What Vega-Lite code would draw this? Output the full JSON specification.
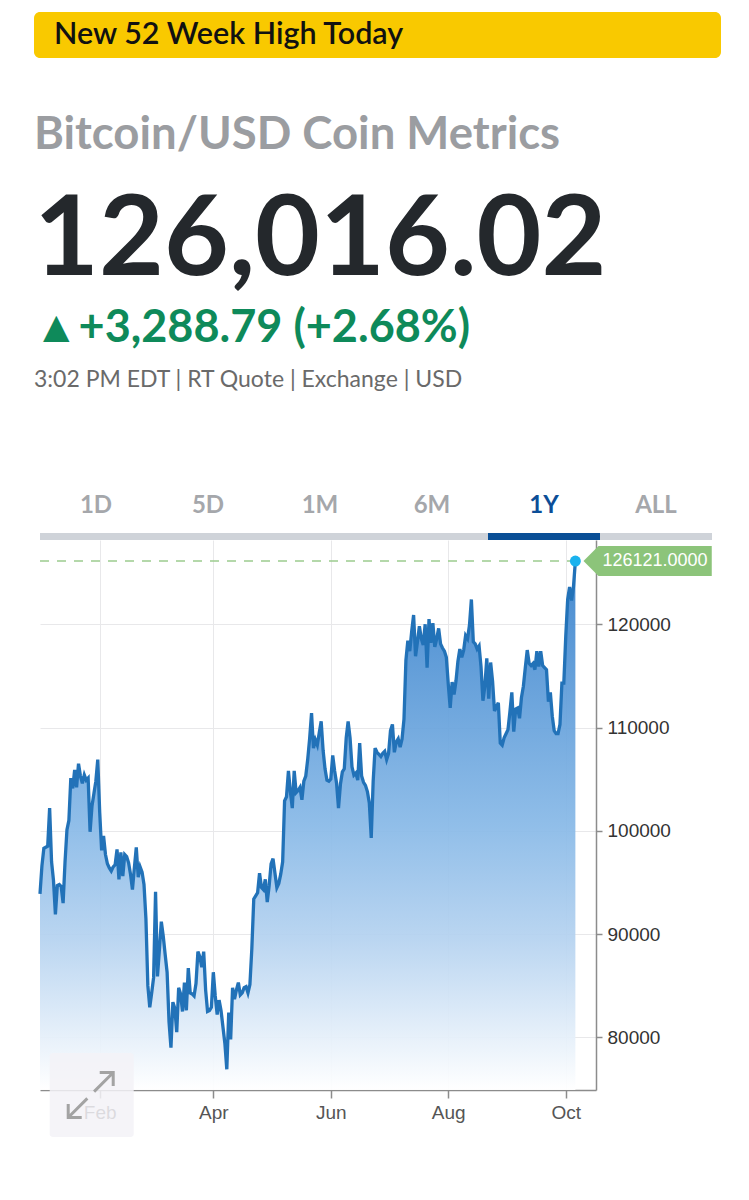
{
  "$schema": "https://vega.github.io/schema/vega-lite/v6.json",
  "padding": {"left": 33, "top": 12, "right": 0, "bottom": 0},
  "background": "#ffffff",
  "bounds": "flush",
  "spacing": 0,
  "config": {"view": {"stroke": null}, "font": "Lato", "concat": {"spacing": 0}},
  "datasets": {
    "tabs": [{"tab": "1D"}, {"tab": "5D"}, {"tab": "1M"}, {"tab": "6M"}, {"tab": "1Y"}, {"tab": "ALL"}],
    "high": [{"date": "2025-10-06", "price": 126121}],
    "btc": [
      {"date":"2025-01-01","price":93900},{"date":"2025-01-02","price":96600},{"date":"2025-01-03","price":98300},{"date":"2025-01-04","price":98400},{"date":"2025-01-05","price":98500},{"date":"2025-01-06","price":102200},{"date":"2025-01-07","price":97000},{"date":"2025-01-08","price":95200},{"date":"2025-01-09","price":91900},{"date":"2025-01-10","price":94700},{"date":"2025-01-11","price":94800},{"date":"2025-01-12","price":94600},{"date":"2025-01-13","price":93000},{"date":"2025-01-14","price":97000},{"date":"2025-01-15","price":100100},{"date":"2025-01-16","price":101000},{"date":"2025-01-17","price":105100},{"date":"2025-01-18","price":104100},{"date":"2025-01-19","price":105900},{"date":"2025-01-20","price":104200},{"date":"2025-01-21","price":106500},{"date":"2025-01-22","price":105300},{"date":"2025-01-23","price":104600},{"date":"2025-01-24","price":105400},{"date":"2025-01-25","price":104900},{"date":"2025-01-26","price":105100},{"date":"2025-01-27","price":99900},{"date":"2025-01-28","price":102400},{"date":"2025-01-29","price":103600},{"date":"2025-01-30","price":104800},{"date":"2025-01-31","price":106900},
      {"date":"2025-02-01","price":101800},{"date":"2025-02-02","price":98100},{"date":"2025-02-03","price":99500},{"date":"2025-02-04","price":97700},{"date":"2025-02-05","price":96800},{"date":"2025-02-06","price":96400},{"date":"2025-02-07","price":96100},{"date":"2025-02-08","price":96500},{"date":"2025-02-09","price":96700},{"date":"2025-02-10","price":98200},{"date":"2025-02-11","price":95300},{"date":"2025-02-12","price":97900},{"date":"2025-02-13","price":95600},{"date":"2025-02-14","price":97700},{"date":"2025-02-15","price":97500},{"date":"2025-02-16","price":96900},{"date":"2025-02-17","price":95800},{"date":"2025-02-18","price":94300},{"date":"2025-02-19","price":96400},{"date":"2025-02-20","price":98400},{"date":"2025-02-21","price":95500},{"date":"2025-02-22","price":96500},{"date":"2025-02-23","price":96000},{"date":"2025-02-24","price":94800},{"date":"2025-02-25","price":91500},{"date":"2025-02-26","price":85000},{"date":"2025-02-27","price":82900},{"date":"2025-02-28","price":84300},
      {"date":"2025-03-01","price":85800},{"date":"2025-03-02","price":94100},{"date":"2025-03-03","price":85900},{"date":"2025-03-04","price":88500},{"date":"2025-03-05","price":91200},{"date":"2025-03-06","price":89800},{"date":"2025-03-07","price":88000},{"date":"2025-03-08","price":86300},{"date":"2025-03-09","price":81500},{"date":"2025-03-10","price":79000},{"date":"2025-03-11","price":83400},{"date":"2025-03-12","price":82800},{"date":"2025-03-13","price":80500},{"date":"2025-03-14","price":84800},{"date":"2025-03-15","price":84200},{"date":"2025-03-16","price":82500},{"date":"2025-03-17","price":85300},{"date":"2025-03-18","price":82600},{"date":"2025-03-19","price":86700},{"date":"2025-03-20","price":84300},{"date":"2025-03-21","price":84200},{"date":"2025-03-22","price":84000},{"date":"2025-03-23","price":85200},{"date":"2025-03-24","price":88300},{"date":"2025-03-25","price":87800},{"date":"2025-03-26","price":86800},{"date":"2025-03-27","price":88300},{"date":"2025-03-28","price":84600},{"date":"2025-03-29","price":82500},{"date":"2025-03-30","price":82600},{"date":"2025-03-31","price":82900},
      {"date":"2025-04-01","price":86300},{"date":"2025-04-02","price":84000},{"date":"2025-04-03","price":82200},{"date":"2025-04-04","price":83600},{"date":"2025-04-05","price":82600},{"date":"2025-04-06","price":81000},{"date":"2025-04-07","price":79400},{"date":"2025-04-08","price":76900},{"date":"2025-04-09","price":82400},{"date":"2025-04-10","price":79800},{"date":"2025-04-11","price":84800},{"date":"2025-04-12","price":83700},{"date":"2025-04-13","price":84600},{"date":"2025-04-14","price":85300},{"date":"2025-04-15","price":84100},{"date":"2025-04-16","price":84300},{"date":"2025-04-17","price":84800},{"date":"2025-04-18","price":84900},{"date":"2025-04-19","price":84300},{"date":"2025-04-20","price":85100},{"date":"2025-04-21","price":88600},{"date":"2025-04-22","price":93400},{"date":"2025-04-23","price":93700},{"date":"2025-04-24","price":94000},{"date":"2025-04-25","price":95900},{"date":"2025-04-26","price":94500},{"date":"2025-04-27","price":94300},{"date":"2025-04-28","price":95300},{"date":"2025-04-29","price":93100},{"date":"2025-04-30","price":94700},
      {"date":"2025-05-01","price":96800},{"date":"2025-05-02","price":97300},{"date":"2025-05-03","price":95900},{"date":"2025-05-04","price":94500},{"date":"2025-05-05","price":94900},{"date":"2025-05-06","price":95800},{"date":"2025-05-07","price":97000},{"date":"2025-05-08","price":102900},{"date":"2025-05-09","price":103300},{"date":"2025-05-10","price":105800},{"date":"2025-05-11","price":103800},{"date":"2025-05-12","price":102200},{"date":"2025-05-13","price":105800},{"date":"2025-05-14","price":103700},{"date":"2025-05-15","price":103900},{"date":"2025-05-16","price":104200},{"date":"2025-05-17","price":103000},{"date":"2025-05-18","price":104800},{"date":"2025-05-19","price":105300},{"date":"2025-05-20","price":106900},{"date":"2025-05-21","price":108900},{"date":"2025-05-22","price":111400},{"date":"2025-05-23","price":108000},{"date":"2025-05-24","price":108800},{"date":"2025-05-25","price":108300},{"date":"2025-05-26","price":109500},{"date":"2025-05-27","price":110600},{"date":"2025-05-28","price":107800},{"date":"2025-05-29","price":106000},{"date":"2025-05-30","price":104900},{"date":"2025-05-31","price":104800},
      {"date":"2025-06-01","price":105000},{"date":"2025-06-02","price":107300},{"date":"2025-06-03","price":105800},{"date":"2025-06-04","price":104600},{"date":"2025-06-05","price":102200},{"date":"2025-06-06","price":104500},{"date":"2025-06-07","price":105700},{"date":"2025-06-08","price":106000},{"date":"2025-06-09","price":109000},{"date":"2025-06-10","price":110600},{"date":"2025-06-11","price":109000},{"date":"2025-06-12","price":106200},{"date":"2025-06-13","price":105400},{"date":"2025-06-14","price":105600},{"date":"2025-06-15","price":104900},{"date":"2025-06-16","price":108500},{"date":"2025-06-17","price":105300},{"date":"2025-06-18","price":104700},{"date":"2025-06-19","price":104400},{"date":"2025-06-20","price":103800},{"date":"2025-06-21","price":102700},{"date":"2025-06-22","price":99300},{"date":"2025-06-23","price":104800},{"date":"2025-06-24","price":108000},{"date":"2025-06-25","price":107600},{"date":"2025-06-26","price":107400},{"date":"2025-06-27","price":107200},{"date":"2025-06-28","price":107500},{"date":"2025-06-29","price":107700},{"date":"2025-06-30","price":106900},
      {"date":"2025-07-01","price":107500},{"date":"2025-07-02","price":109700},{"date":"2025-07-03","price":110300},{"date":"2025-07-04","price":107600},{"date":"2025-07-05","price":108600},{"date":"2025-07-06","price":108900},{"date":"2025-07-07","price":108100},{"date":"2025-07-08","price":108900},{"date":"2025-07-09","price":110800},{"date":"2025-07-10","price":116500},{"date":"2025-07-11","price":118400},{"date":"2025-07-12","price":117400},{"date":"2025-07-13","price":119300},{"date":"2025-07-14","price":120900},{"date":"2025-07-15","price":116900},{"date":"2025-07-16","price":118300},{"date":"2025-07-17","price":119800},{"date":"2025-07-18","price":118600},{"date":"2025-07-19","price":118000},{"date":"2025-07-20","price":120000},{"date":"2025-07-21","price":115800},{"date":"2025-07-22","price":120500},{"date":"2025-07-23","price":118200},{"date":"2025-07-24","price":120100},{"date":"2025-07-25","price":117800},{"date":"2025-07-26","price":118600},{"date":"2025-07-27","price":119600},{"date":"2025-07-28","price":118100},{"date":"2025-07-29","price":117700},{"date":"2025-07-30","price":117400},{"date":"2025-07-31","price":116800},
      {"date":"2025-08-01","price":114200},{"date":"2025-08-02","price":111900},{"date":"2025-08-03","price":114400},{"date":"2025-08-04","price":113200},{"date":"2025-08-05","price":114500},{"date":"2025-08-06","price":116400},{"date":"2025-08-07","price":117600},{"date":"2025-08-08","price":116800},{"date":"2025-08-09","price":117500},{"date":"2025-08-10","price":118900},{"date":"2025-08-11","price":118600},{"date":"2025-08-12","price":119900},{"date":"2025-08-13","price":122400},{"date":"2025-08-14","price":118300},{"date":"2025-08-15","price":118100},{"date":"2025-08-16","price":117600},{"date":"2025-08-17","price":117900},{"date":"2025-08-18","price":115900},{"date":"2025-08-19","price":112600},{"date":"2025-08-20","price":114000},{"date":"2025-08-21","price":116700},{"date":"2025-08-22","price":112800},{"date":"2025-08-23","price":116300},{"date":"2025-08-24","price":114500},{"date":"2025-08-25","price":111600},{"date":"2025-08-26","price":112000},{"date":"2025-08-27","price":112400},{"date":"2025-08-28","price":108500},{"date":"2025-08-29","price":108300},{"date":"2025-08-30","price":109000},{"date":"2025-08-31","price":109400},
      {"date":"2025-09-01","price":109800},{"date":"2025-09-02","price":111500},{"date":"2025-09-03","price":113400},{"date":"2025-09-04","price":109600},{"date":"2025-09-05","price":111800},{"date":"2025-09-06","price":111900},{"date":"2025-09-07","price":110900},{"date":"2025-09-08","price":112900},{"date":"2025-09-09","price":114000},{"date":"2025-09-10","price":115800},{"date":"2025-09-11","price":117500},{"date":"2025-09-12","price":116200},{"date":"2025-09-13","price":116000},{"date":"2025-09-14","price":116200},{"date":"2025-09-15","price":115600},{"date":"2025-09-16","price":117400},{"date":"2025-09-17","price":115900},{"date":"2025-09-18","price":117400},{"date":"2025-09-19","price":116000},{"date":"2025-09-20","price":115800},{"date":"2025-09-21","price":115600},{"date":"2025-09-22","price":112500},{"date":"2025-09-23","price":113400},{"date":"2025-09-24","price":111100},{"date":"2025-09-25","price":109700},{"date":"2025-09-26","price":109400},{"date":"2025-09-27","price":109400},{"date":"2025-09-28","price":110300},{"date":"2025-09-29","price":114300},{"date":"2025-09-30","price":114300},
      {"date":"2025-10-01","price":118800},{"date":"2025-10-02","price":122400},{"date":"2025-10-03","price":123600},{"date":"2025-10-04","price":122300},{"date":"2025-10-05","price":123600},{"date":"2025-10-06","price":126121}
    ]
  },
  "vconcat": [
    {
      "width": 687, "height": 46,
      "view": {"fill": "#F9C900", "stroke": null, "cornerRadius": 6},
      "data": {"values": [{"label": "New 52 Week High Today"}]},
      "mark": {"type": "text", "align": "left", "baseline": "middle", "dx": 20, "font": "Lato", "fontSize": 30.5, "fontWeight": 600, "color": "#111111"},
      "encoding": {
        "text": {"field": "label"},
        "x": {"datum": 0, "type": "quantitative", "scale": {"domain": [0, 1]}, "axis": null}
      }
    },
    {
      "width": 687, "height": 154,
      "data": {"values": [{"label": "Bitcoin/USD Coin Metrics"}]},
      "mark": {"type": "text", "align": "left", "baseline": "middle", "font": "Lato", "fontSize": 45.5, "fontWeight": "bold", "color": "#9b9da1"},
      "encoding": {
        "text": {"field": "label"},
        "x": {"datum": 0, "type": "quantitative", "scale": {"domain": [0, 1]}, "axis": null}
      }
    },
    {
      "width": 687, "height": 46,
      "data": {"values": [{"label": "126,016.02"}]},
      "mark": {"type": "text", "align": "left", "baseline": "middle", "dy": 6, "font": "Lato", "fontSize": 112, "fontWeight": "bold", "color": "#24282c"},
      "encoding": {
        "text": {"field": "label"},
        "x": {"datum": 0, "type": "quantitative", "scale": {"domain": [0, 1]}, "axis": null}
      }
    },
    {
      "width": 687, "height": 220,
      "layer": [
        {
          "data": {"values": [{"label": "▲+3,288.79 (+2.68%)"}]},
          "mark": {"type": "text", "align": "left", "baseline": "middle", "dy": -40, "font": "Lato", "fontSize": 45, "fontWeight": "bold", "color": "#0e8a5a"},
          "encoding": {
            "text": {"field": "label"},
            "x": {"datum": 0, "type": "quantitative", "scale": {"domain": [0, 1]}, "axis": null}
          }
        },
        {
          "data": {"values": [{"label": "3:02 PM EDT | RT Quote | Exchange | USD"}]},
          "mark": {"type": "text", "align": "left", "baseline": "middle", "dy": 12, "font": "Lato", "fontSize": 23, "fontWeight": "normal", "color": "#6a6a6a"},
          "encoding": {
            "text": {"field": "label"},
            "x": {"datum": 0, "type": "quantitative", "scale": {"domain": [0, 1]}, "axis": null}
          }
        }
      ]
    },
    {
      "bounds": "flush",
      "spacing": 0,
      "hconcat": [
        {
          "width": 6, "height": 10,
          "data": {"values": [{"k": 0}]},
          "mark": {"type": "point", "opacity": 0, "size": 0},
          "encoding": {}
        },
        {
          "bounds": "flush",
          "spacing": 0,
          "vconcat": [
            {
              "width": 672, "height": 55,
              "data": {"name": "tabs"},
              "mark": {"type": "text", "baseline": "middle", "font": "Lato", "fontSize": 24, "fontWeight": "bold"},
              "encoding": {
                "x": {"field": "tab", "type": "nominal", "sort": null, "axis": null},
                "text": {"field": "tab"},
                "color": {"condition": {"test": "datum.tab === '1Y'", "value": "#0c4e97"}, "value": "#a5a7ab"}
              }
            },
            {
              "width": 672, "height": 7,
              "data": {"name": "tabs"},
              "mark": {"type": "rect"},
              "encoding": {
                "x": {"field": "tab", "type": "nominal", "sort": null, "axis": null, "scale": {"paddingInner": 0, "paddingOuter": 0}},
                "color": {"condition": {"test": "datum.tab === '1Y'", "value": "#0a4f96"}, "value": "#cfd3d9"}
              }
            },
            {
              "width": 556, "height": 550,
              "data": {"name": "btc"},
              "encoding": {
                "x": {
                  "field": "date", "type": "temporal",
                  "scale": {"domain": [{"year": 2025, "month": 1, "date": 1}, {"year": 2025, "month": 10, "date": 16, "hours": 17}]},
                  "axis": {
                    "title": null,
                    "values": [{"year": 2025, "month": 2, "date": 1}, {"year": 2025, "month": 4, "date": 1}, {"year": 2025, "month": 6, "date": 1}, {"year": 2025, "month": 8, "date": 1}, {"year": 2025, "month": 10, "date": 1}],
                    "format": "%b",
                    "grid": true, "gridColor": "#e8e8ea", "gridWidth": 1,
                    "domainColor": "#8c8c8c", "domainWidth": 1.5,
                    "tickColor": "#8c8c8c", "tickWidth": 1.5, "tickSize": 8,
                    "labelFont": "Liberation Sans", "labelFontSize": 19, "labelColor": "#555555", "labelPadding": 5,
                    "labelFlush": false
                  }
                },
                "y": {
                  "field": "price", "type": "quantitative",
                  "scale": {"domain": [74896, 128160], "zero": false, "nice": false},
                  "axis": {
                    "orient": "right", "title": null,
                    "values": [80000, 90000, 100000, 110000, 120000],
                    "format": "d",
                    "grid": true, "gridColor": "#e8e8ea", "gridWidth": 1,
                    "domainColor": "#8c8c8c", "domainWidth": 1.5,
                    "tickColor": "#8c8c8c", "tickWidth": 1.5, "tickSize": 6,
                    "labelFont": "Liberation Sans", "labelFontSize": 19, "labelColor": "#333333", "labelPadding": 5
                  }
                }
              },
              "layer": [
                {
                  "mark": {
                    "type": "area", "fillOpacity": 0.93,
                    "color": {"gradient": "linear", "x1": 0, "y1": 0, "x2": 0, "y2": 1,
                      "stops": [{"offset": 0, "color": "#3680cb"}, {"offset": 0.5, "color": "#88b9e7"}, {"offset": 0.72, "color": "#b6d3f0"}, {"offset": 1, "color": "#ffffff"}]}
                  },
                  "encoding": {"y2": {"datum": 74896}}
                },
                {
                  "mark": {"type": "line", "color": "#2272b8", "strokeWidth": 3.3}
                },
                {
                  "data": {"name": "high"},
                  "mark": {"type": "rule", "color": "#9ccb8e", "strokeWidth": 1.5, "strokeDash": [9, 8]},
                  "encoding": {
                    "x": {"datum": {"year": 2025, "month": 1, "date": 1}, "type": "temporal"},
                    "x2": {"field": "date"}
                  }
                },
                {
                  "data": {"name": "high"},
                  "mark": {"type": "point", "shape": "M0,0L1,-1L8.55,-1L8.55,1L1,1Z", "filled": true, "color": "#8cc47a", "opacity": 1, "size": 900, "strokeWidth": 0},
                  "encoding": {
                    "x": {"datum": {"year": 2025, "month": 10, "date": 10, "hours": 5}, "type": "temporal"}
                  }
                },
                {
                  "data": {"name": "high"},
                  "mark": {"type": "text", "align": "left", "baseline": "middle", "dx": 19, "font": "Liberation Sans", "fontSize": 18, "color": "#ffffff", "limit": 109, "ellipsis": ""},
                  "encoding": {
                    "x": {"datum": {"year": 2025, "month": 10, "date": 10, "hours": 5}, "type": "temporal"},
                    "text": {"field": "price", "type": "quantitative", "format": ".4f"}
                  }
                },
                {
                  "data": {"name": "high"},
                  "mark": {"type": "point", "shape": "circle", "filled": true, "color": "#1ab2ee", "opacity": 1, "size": 120}
                },
                {
                  "data": {"name": "high"},
                  "mark": {"type": "rect", "color": "#f3f2f7", "opacity": 0.85, "cornerRadius": 3},
                  "encoding": {
                    "x": {"datum": {"year": 2025, "month": 1, "date": 6, "hours": 1}, "type": "temporal"},
                    "x2": {"datum": {"year": 2025, "month": 2, "date": 18, "hours": 16}},
                    "y": {"datum": 78479, "type": "quantitative"},
                    "y2": {"datum": 70344}
                  }
                },
                {
                  "data": {"name": "high"},
                  "mark": {"type": "point", "shape": "M0.15,-0.15L1,-1M0.4,-1L1,-1L1,-0.4M-0.15,0.15L-1,1M-1,0.4L-1,1L-0.4,1", "filled": false, "stroke": "#a3a3a3", "strokeWidth": 3, "opacity": 1, "size": 2025},
                  "encoding": {
                    "x": {"datum": {"year": 2025, "month": 1, "date": 27, "hours": 8}, "type": "temporal"},
                    "y": {"datum": 74412, "type": "quantitative"}
                  }
                }
              ]
            }
          ]
        }
      ]
    }
  ]
}
